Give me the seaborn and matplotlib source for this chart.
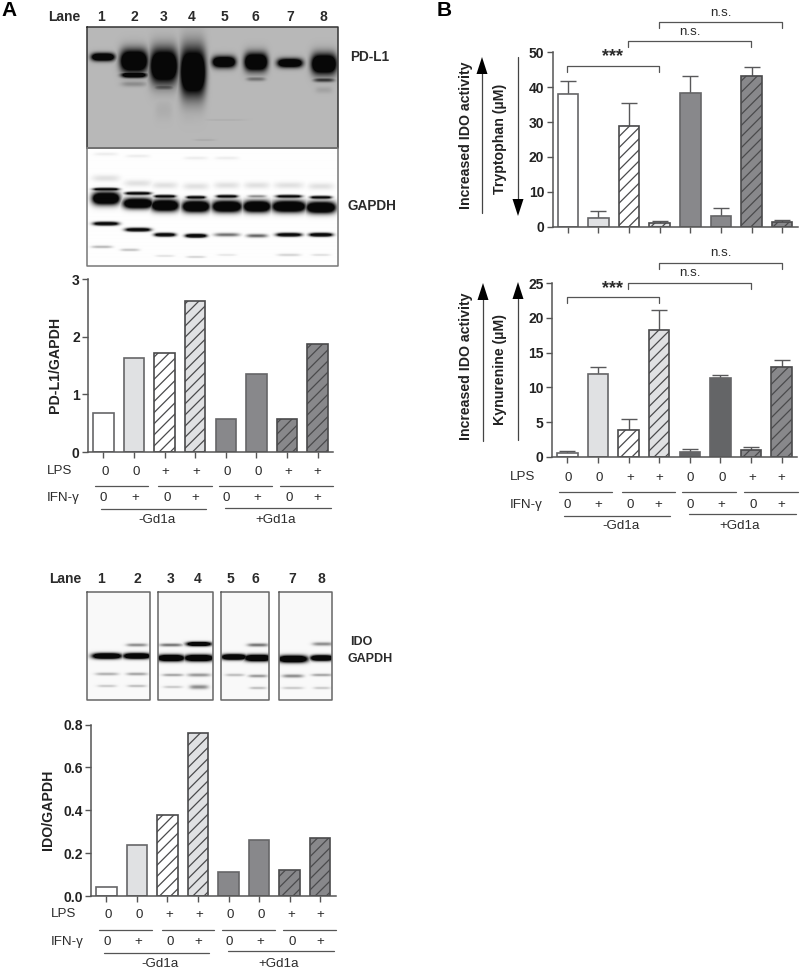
import numpy as np
import pandas as pd
import matplotlib
matplotlib.use('Agg')
import matplotlib.pyplot as plt
import seaborn as sns

sns.set_style('white')
plt.rcParams['font.family'] = ['Liberation Sans', 'DejaVu Sans']
plt.rcParams['hatch.linewidth'] = 0.9

W, H = 800, 972

# values
lanes = ['1', '2', '3', '4', '5', '6', '7', '8']
lps = ['0', '0', '+', '+', '0', '0', '+', '+']
ifn = ['0', '+', '0', '+', '0', '+', '0', '+']
pdl1_gapdh = [0.67, 1.64, 1.73, 2.62, 0.57, 1.36, 0.58, 1.88]
ido_gapdh = [0.04, 0.24, 0.38, 0.76, 0.11, 0.26, 0.12, 0.27]
tryptophan = [38.1, 2.6, 29.0, 1.2, 38.3, 3.2, 43.2, 1.4]
tryptophan_err = [3.6, 2.0, 6.4, 0.4, 4.9, 2.1, 2.6, 0.6]
kynurenine = [0.5, 11.9, 3.8, 18.2, 0.7, 11.4, 1.0, 12.9]
kynurenine_err = [0.3, 1.1, 1.6, 3.0, 0.35, 0.4, 0.45, 1.0]

# bar styles
fills_a = ['#ffffff', '#e0e1e3', '#ffffff', '#e0e1e3', '#87888b', '#87888b', '#87888b', '#87888b']
fills_b2 = ['#ffffff', '#e0e1e3', '#ffffff', '#e0e1e3', '#646567', '#646567', '#87888b', '#87888b']
hatched = [False, False, True, True, False, False, True, True]

# blot bands: x centre, half width, y centre, half height, darkness
pdl1_bands = [
    (103, 11, 57, 3.5, 1), (134, 13, 61, 10, 1), (134, 12, 75, 2.5, .9), (134, 12, 84, 2.5, .25),
    (164, 13, 66, 15, 1), (164, 10, 87, 3, .6), (163, 8, 44, 1.5, .15), (164, 8, 110, 9, .06),
    (193, 12, 72, 21, 1), (191, 7, 44, 1.5, .4), (190, 7, 110, 10, .07),
    (224, 11, 62, 5, 1), (256, 11, 62, 8, 1), (256, 9, 79, 2, .4),
    (290, 12, 63, 4, .95), (324, 12, 64, 9, 1), (324, 10, 80, 2, .75), (324, 8, 90, 3, .12),
    (225, 20, 120, .5, .1), (205, 10, 140, .7, .1),
]
gapdh_bands = [
    (106, 13, 199, 5.5, 1), (138, 14, 204, 4.5, 1), (165, 13, 206, 5, 1), (196, 13, 207, 5, 1),
    (227, 14, 207, 5, 1), (257, 13, 207, 5, 1), (289, 16, 207, 5, 1), (321, 14, 208, 5, 1),
    (106, 12, 190, 1.3, .9), (138, 12, 194, 1.3, .9), (165, 10, 197, 1.3, .9), (196, 9, 198, 1.3, .9),
    (227, 10, 197, 1.3, .85), (257, 9, 197, 1.3, .5), (289, 12, 197, 1.3, .85), (321, 10, 198, 1.3, .85),
    (106, 12, 224, 1.6, .85), (138, 12, 230, 1.6, .85), (165, 10, 235, 1.6, .85), (196, 10, 236, 1.6, .95),
    (227, 12, 235, 1.6, .6), (257, 10, 236, 1.6, .65), (289, 12, 235, 1.6, .85), (321, 11, 235, 1.6, .9),
    (106, 13, 179, 3, .12), (138, 13, 184, 3, .12), (165, 12, 186, 3, .12), (196, 12, 187, 3, .12),
    (227, 12, 186, 3, .12), (257, 12, 186, 3, .12), (289, 14, 186, 3, .12), (321, 12, 187, 3, .12),
    (102, 10, 247, 1.2, .3), (130, 9, 250, 1.2, .25), (165, 9, 256, 1, .12), (196, 9, 257, 1, .18),
    (227, 9, 255, 1, .1), (289, 11, 255, 1.2, .18), (321, 9, 255, 1, .13),
    (106, 11, 155, 1.5, .07), (138, 11, 157, 1.5, .07), (196, 11, 159, 1.5, .07), (227, 11, 159, 1.5, .07),
]
ido_bands = [
    (107, 14, 656, 2.6, 1), (137, 13, 656, 2.6, 1), (137, 10, 645, 1.5, .45),
    (171, 13, 658, 3, 1), (199, 14, 658, 3, 1), (171, 11, 645, 1.5, .55), (199, 12, 644, 2, .9),
    (234, 12, 657, 2.6, 1), (258, 13, 658, 3, 1), (258, 10, 645, 1.6, .55),
    (293, 14, 659, 3.2, 1), (322, 11, 658, 2.6, 1), (323, 10, 644, 1.7, .45),
    (107, 11, 674, 1.4, .3), (137, 10, 674, 1.4, .35), (173, 10, 675, 1.3, .35), (199, 11, 675, 1.6, .4),
    (235, 9, 675, 1.3, .25), (258, 9, 676, 1.4, .4), (293, 10, 676, 1.6, .45), (322, 10, 675, 1.3, .35),
    (107, 9, 686, 1.2, .2), (137, 9, 686, 1.2, .25), (173, 9, 687, 1.2, .2), (199, 9, 687, 2, .45),
    (258, 8, 688, 1.2, .25), (293, 10, 688, 1.2, .2), (322, 8, 688, 1.2, .2),
]
ido_panels = [(87, 150), (158, 213), (221, 269), (279, 332)]


def px_axes(fig, left, top, right, bottom):
    return fig.add_axes([left / W, 1 - bottom / H, (right - left) / W, (bottom - top) / H])


def blot(ov, left, top, right, bottom, bands, shade, edge):
    # paint soft bands on a flat background, in picture pixels
    xs, ys = np.meshgrid(np.arange(left, right) + .5, np.arange(top, bottom) + .5)
    dark = np.zeros_like(xs)
    for cx, hw, cy, hh, d in bands:
        # strong bands saturate, so they read as flat black blocks
        boost = 1.9 if d >= .85 else 1
        band = d * boost * np.exp(-((xs - cx) / (hw * 1.05)) ** 4) * np.exp(-np.abs((ys - cy) / (hh * 1.1)) ** 2)
        dark = np.maximum(dark, np.clip(band, 0, 1))
    ov.imshow(shade * (1 - dark) + .03 * dark, cmap='gray', vmin=0, vmax=1, aspect='auto',
              extent=(left, right, bottom, top), zorder=1, interpolation='bilinear')
    ov.plot([left, right, right, left, left], [top, top, bottom, bottom, top], color=edge, lw=1.1, zorder=2)


def bars(fig, box, values, ymax, ticks, fills, ylabel, label_xy, errs=None, fmt=None):
    left, top, right, bottom = box
    ax = px_axes(fig, left, top, right, bottom)
    ax.patch.set_alpha(0)
    frame = pd.DataFrame({'lane': lanes, 'value': values})
    sns.barplot(data=frame, x='lane', y='value', hue='lane', palette=fills, legend=False, width=.67,
                edgecolor='#666668', linewidth=1.2, ax=ax, zorder=2)
    for patch, hatch in zip(ax.patches, hatched):
        if hatch:
            patch.set_hatch('///')
            patch.set_edgecolor('#4a4a4c')
    if errs is not None:
        ax.errorbar(range(8), values, yerr=[np.zeros(8), errs], fmt='none', ecolor='#58585a',
                    elinewidth=1, capsize=5.5, capthick=1, zorder=1)
    ax.set_xlim(-.5, 7.5)
    ax.set_ylim(0, ymax)
    ax.set_yticks(ticks)
    ax.set_yticklabels([fmt % t for t in ticks], fontweight='bold', fontsize=10, color='#222222')
    ax.set_xticks(range(8))
    ax.set_xticklabels([])
    ax.set_xlabel('')
    ax.set_ylabel(ylabel, fontweight='bold', fontsize=10.2, color='#222222')
    ax.yaxis.set_label_coords((label_xy[0] - left) / (right - left), 1 - (label_xy[1] - top) / (bottom - top))
    ax.tick_params(axis='both', direction='out', length=4, width=1, color='#555555', left=True, bottom=True, pad=2)
    sns.despine(ax=ax)
    for side in ['left', 'bottom']:
        ax.spines[side].set_color('#555555')
        ax.spines[side].set_linewidth(1.1)
    return ax


def txt(ov, x, y, s, size=9.6, weight='normal', ha='center', color='#2b2b2b', rot=0):
    ov.text(x, y, s, fontsize=size, fontweight=weight, ha=ha, va='center', color=color, rotation=rot, zorder=5)


def rule(ov, x0, x1, y):
    ov.plot([x0, x1], [y, y], color='#555555', lw=.9, zorder=3)


def factors(ov, lps_x, ifn_x, label_x, lps_y, seg_y, segs, ifn_y, g1, g2, gap_y):
    txt(ov, label_x, lps_y - 1, 'LPS', ha='left')
    txt(ov, label_x, ifn_y, 'IFN-γ', ha='left')
    for x, s in zip(lps_x, lps):
        txt(ov, x, lps_y, s)
    for x, s in zip(ifn_x, ifn):
        txt(ov, x, ifn_y, s)
    for a, b in segs:
        rule(ov, a, b, seg_y)
    rule(ov, g1[0], g1[1], g1[2])
    rule(ov, g2[0], g2[1], g2[2])
    txt(ov, g1[3], gap_y, '-Gd1a')
    txt(ov, g2[3], gap_y, '+Gd1a')


def bracket(ov, x0, x1, y, drop, label, label_y, size=9.6, weight='normal'):
    ov.plot([x0, x0, x1, x1], [y + drop, y, y, y + drop], color='#555555', lw=.9, zorder=3)
    txt(ov, (x0 + x1) / 2, label_y, label, size=size, weight=weight)


def arrow(ov, x, y_tail, y_tip):
    sign = 1 if y_tip > y_tail else -1
    ov.plot([x, x], [y_tail, y_tip - sign * 8], color='#444444', lw=.9, zorder=3)
    ov.fill([x - 5.5, x + 5.5, x], [y_tip - sign * 17, y_tip - sign * 17, y_tip], color='black', zorder=4, lw=0)


fig = plt.figure(figsize=(W / 100, H / 100), dpi=100)

# full-size layer in picture pixels for blots, row labels and brackets
ov = fig.add_axes([0, 0, 1, 1])
ov.set_xlim(0, W)
ov.set_ylim(H, 0)
ov.axis('off')

blot(ov, 87, 27, 338, 148, pdl1_bands, .72, '#333333')
blot(ov, 87, 148, 338, 266, gapdh_bands, .995, '#777777')
for a, b in ido_panels:
    panel = [band for band in ido_bands if a <= band[0] <= b]
    blot(ov, a, 592, b, 700, panel, .975, '#666666')
ov.set_xlim(0, W)
ov.set_ylim(H, 0)

txt(ov, 9, 11, 'A', size=15, weight='bold', color='black')
txt(ov, 444, 10, 'B', size=15, weight='bold', color='black')

# lane labels
txt(ov, 64, 17, 'Lane', size=10, weight='bold')
for x, s in zip([101, 134, 164, 192, 224, 255, 290, 323], lanes):
    txt(ov, x, 17, s, size=10, weight='bold')
txt(ov, 65, 579, 'Lane', size=10, weight='bold')
for x, s in zip([101, 137, 171, 198, 230, 255, 292, 321], lanes):
    txt(ov, x, 579, s, size=10, weight='bold')
txt(ov, 350, 57, 'PD-L1', size=9.8, weight='bold', ha='left')
txt(ov, 347, 206, 'GAPDH', size=9.8, weight='bold', ha='left')
txt(ov, 350, 642, 'IDO', size=9, weight='bold', ha='left')
txt(ov, 348, 659, 'GAPDH', size=9, weight='bold', ha='left')

# bar panels
bars(fig, (88, 279.5, 333, 452), pdl1_gapdh, 3, [0, 1, 2, 3], fills_a, 'PD-L1/GAPDH', (62, 365), fmt='%d')
bars(fig, (91, 724.5, 335.5, 896), ido_gapdh, .8, [0, .2, .4, .6, .8], fills_a, 'IDO/GAPDH', (55, 810), fmt='%.1f')
bars(fig, (552.5, 52.3, 797.5, 226.7), tryptophan, 50, [0, 10, 20, 30, 40, 50], fills_a, 'Tryptophan (µM)',
     (507, 139), errs=tryptophan_err, fmt='%d')
bars(fig, (552, 283.3, 797, 456.7), kynurenine, 25, [0, 5, 10, 15, 20, 25], fills_b2, 'Kynurenine (µM)',
     (507, 370), errs=kynurenine_err, fmt='%d')

# rows under the bars
factors(ov, [105, 136, 165, 196, 227, 258, 288, 317], [103, 135, 167, 195, 226, 257, 289, 317], 47, 472, 486,
        [(95, 148), (158, 212), (219, 272), (280, 333)], 498,
        (101, 206, 509, 157), (225, 331, 508, 276), 520)
factors(ov, [108, 139, 169, 199, 230, 261, 291, 320], [107, 138, 170, 198, 229, 260, 292, 320], 51, 915, 930,
        [(99, 152), (162, 214), (222, 275), (283, 336)], 942,
        (104, 209, 953, 160), (228, 334, 951, 279), 964)
factors(ov, [568, 599, 630, 659, 690, 722, 752, 781], [567, 598, 630, 658, 690, 721, 753, 781], 510, 478, 492,
        [(559, 612), (622, 675), (682, 736), (744, 798)], 505,
        (564, 670, 515.5, 621), (689, 796, 514, 740), 526)

# significance brackets
bracket(ov, 567, 659, 66, 6, '***', 57, size=13, weight='bold')
bracket(ov, 628, 751, 41, 6, 'n.s.', 32)
bracket(ov, 659, 782, 22, 6, 'n.s.', 13)
bracket(ov, 567, 659, 297, 6, '***', 289, size=13, weight='bold')
bracket(ov, 628, 751, 283, 6, 'n.s.', 273)
bracket(ov, 659, 782, 263, 6, 'n.s.', 253)

# activity arrows
txt(ov, 466, 135, 'Increased IDO activity', size=10.2, weight='bold', rot=90, color='#222222')
txt(ov, 466, 366, 'Increased IDO activity', size=10.2, weight='bold', rot=90, color='#222222')
arrow(ov, 482, 213, 57)
arrow(ov, 518, 57, 216)
arrow(ov, 483, 441, 283)
arrow(ov, 518, 440, 282)

fig.savefig('out.png', dpi=100)
